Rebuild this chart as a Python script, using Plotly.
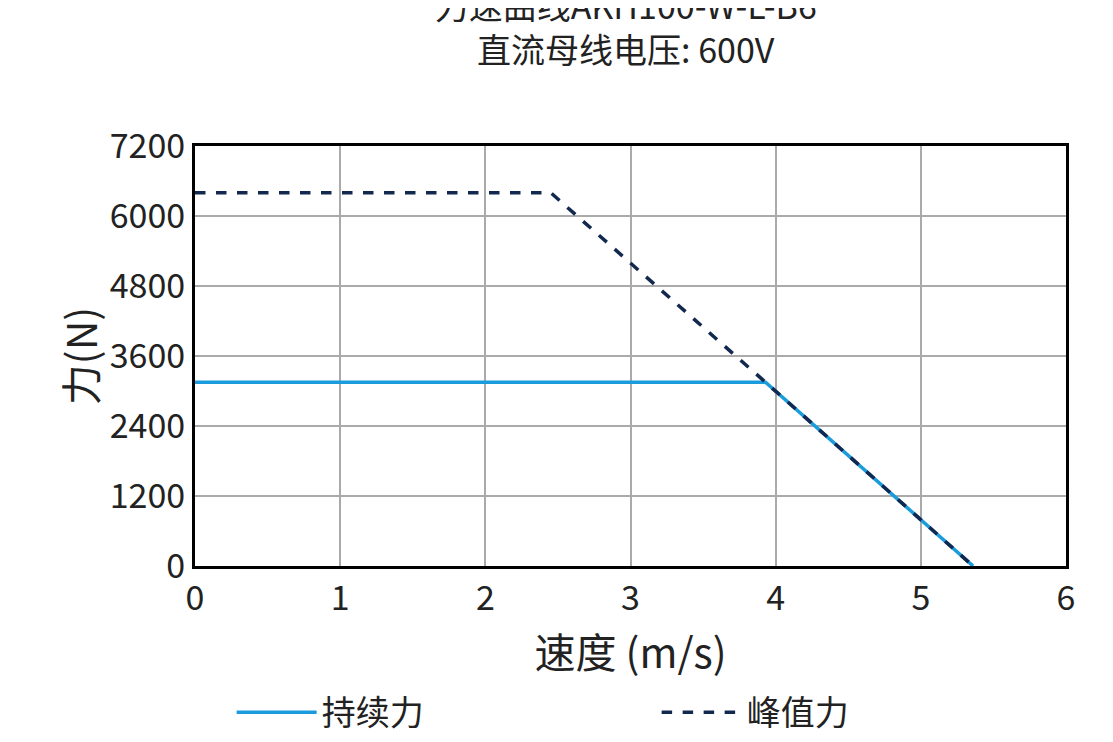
import plotly.graph_objects as go

cont_x = [0, 3.93, 5.36]
cont_y = [3150, 3150, 0]
peak_x = [0, 2.45, 3.93, 5.36]
peak_y = [6400, 6400, 3150, 0]
x_ticks = [0, 1, 2, 3, 4, 5, 6]
y_ticks = [0, 1200, 2400, 3600, 4800, 6000, 7200]

F = "Noto Sans CJK SC"
fig = go.Figure()
fig.add_trace(go.Scatter(x=cont_x, y=cont_y, mode="lines", name="持续力",
                         line=dict(color="#1a9bdc", width=3.5)))
fig.add_trace(go.Scatter(x=peak_x, y=peak_y, mode="lines", name="峰值力",
                         line=dict(color="#13284f", width=3.5, dash="dash")))
fig.update_layout(
    width=1113, height=742, plot_bgcolor="white", paper_bgcolor="white",
    margin=dict(l=187, r=55, t=138, b=184, autoexpand=False),
    font=dict(family=F, size=34, color="#222"),
    title=dict(text="力速曲线AKH100-W-L-B6<br>直流母线电压: 600V", x=0.555, xanchor="center",
               yref="container", y=0.985, yanchor="top", font=dict(size=34), automargin=False),
    xaxis=dict(range=[0, 6], tickvals=x_ticks, showgrid=True, gridcolor="#aaaaaa", gridwidth=1.5,
               showline=True, linecolor="black", linewidth=3, mirror=True, zeroline=False,
               title=dict(text="速度 (m/s)", standoff=0), ticks="", automargin=False,
               tickfont=dict(size=34)),
    yaxis=dict(range=[0, 7200], tickvals=y_ticks, showgrid=True, gridcolor="#aaaaaa", gridwidth=1.5,
               showline=True, linecolor="black", linewidth=3, mirror=True, zeroline=False,
               title=dict(text="力(N)", standoff=0), ticks="", automargin=False,
               tickfont=dict(size=34)),
    legend=dict(orientation="h", x=0.53, xanchor="center", y=-0.28, yanchor="top",
                font=dict(size=34), itemwidth=80, entrywidth=330, entrywidthmode="pixels"),
)
fig.write_html("out.html")
